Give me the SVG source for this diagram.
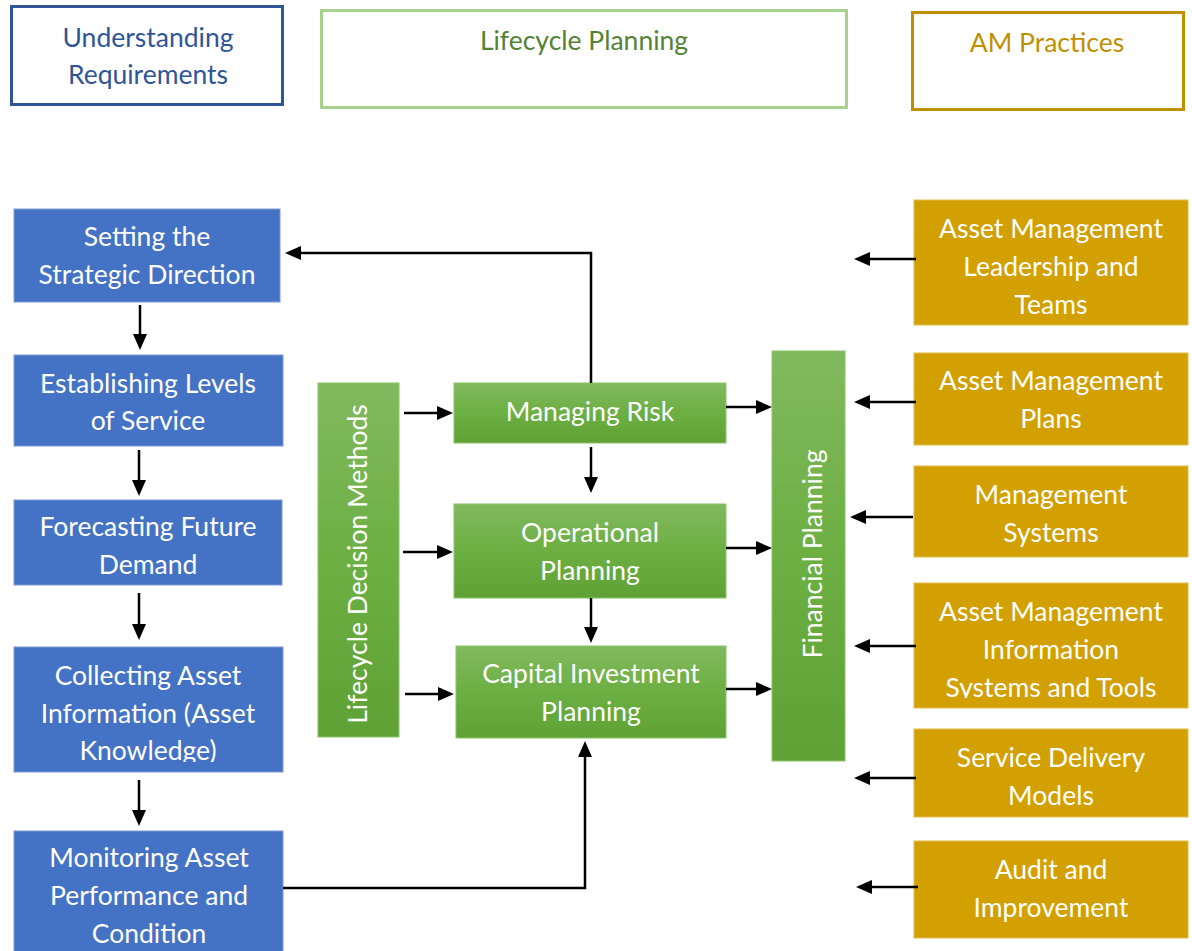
<svg xmlns="http://www.w3.org/2000/svg" width="1192" height="951" viewBox="0 0 1192 951">
<style>
.t{font-family:Lato,"Open Sans","Liberation Sans",sans-serif;font-size:26.5px;text-anchor:middle}
.w{fill:#FFFFFF}
.blue{fill:#4472C4;stroke:#7C9BD6;stroke-width:1}
.green{fill:url(#gg);stroke:#8CC46A;stroke-width:1}
.gold{fill:#D2A000;stroke:#E2BC4A;stroke-width:1}
.hdr{fill:#FFFFFF;stroke-width:3}
.c{fill:none;stroke:#000000;stroke-width:2.5;marker-end:url(#ah)}
</style>
<defs>
<linearGradient id="gg" x1="0" y1="0" x2="0" y2="1">
<stop offset="0" stop-color="#82B95F"/>
<stop offset="0.5" stop-color="#6CAF42"/>
<stop offset="1" stop-color="#5FA134"/>
</linearGradient>
<marker id="ah" markerUnits="userSpaceOnUse" markerWidth="16" markerHeight="14" viewBox="0 0 16 14" refX="12" refY="7" orient="auto">
<path d="M0,0 L16,7 L0,14 z" fill="#000000"/>
</marker>
<clipPath id="clipCAI"><rect x="14" y="647" width="269" height="115"/></clipPath>
<clipPath id="clipAMIS"><rect x="914" y="583" width="274" height="115"/></clipPath>
</defs>

<g id="hdr-understanding">
<rect class="hdr" x="11.5" y="6.5" width="271" height="98" stroke="#2F5597"/>
<text class="t" x="148" y="47" fill="#2F5597">Understanding</text>
<text class="t" x="148" y="84" fill="#2F5597">Requirements</text>
</g>
<g id="hdr-lifecycle">
<rect class="hdr" x="321.5" y="10.5" width="525" height="97" stroke="#A9D18E"/>
<text class="t" x="584" y="50" fill="#548235">Lifecycle Planning</text>
</g>
<g id="hdr-am">
<rect class="hdr" x="912.5" y="12.5" width="271" height="97" stroke="#BF9000"/>
<text class="t" x="1047" y="52" fill="#BF9000">AM Practices</text>
</g>

<g id="n-setting">
<rect class="blue" x="14" y="209" width="266" height="93"/>
<text class="t w" x="147" y="246">Setting the</text>
<text class="t w" x="147" y="284">Strategic Direction</text>
</g>
<g id="n-levels">
<rect class="blue" x="14" y="355" width="269" height="91"/>
<text class="t w" x="148" y="393">Establishing Levels</text>
<text class="t w" x="148" y="430">of Service</text>
</g>
<g id="n-forecast">
<rect class="blue" x="14" y="500" width="268" height="85"/>
<text class="t w" x="148" y="536">Forecasting Future</text>
<text class="t w" x="148" y="574">Demand</text>
</g>
<g id="n-collecting">
<rect class="blue" x="14" y="647" width="269" height="125"/>
<g clip-path="url(#clipCAI)">
<text class="t w" x="148" y="685">Collecting Asset</text>
<text class="t w" x="148" y="723">Information (Asset</text>
<text class="t w" x="148" y="760">Knowledge)</text>
</g>
</g>
<g id="n-monitoring">
<rect class="blue" x="14" y="831" width="269" height="125"/>
<text class="t w" x="149" y="867">Monitoring Asset</text>
<text class="t w" x="149" y="905">Performance and</text>
<text class="t w" x="149" y="943">Condition</text>
</g>

<g id="n-ldm">
<rect class="green" x="318" y="383" width="81" height="354"/>
<text class="t w" transform="translate(367,564) rotate(-90)">Lifecycle Decision Methods</text>
</g>
<g id="n-risk">
<rect class="green" x="454" y="383" width="272" height="60"/>
<text class="t w" x="590" y="421">Managing Risk</text>
</g>
<g id="n-operational">
<rect class="green" x="454" y="504" width="272" height="94"/>
<text class="t w" x="590" y="542">Operational</text>
<text class="t w" x="590" y="580">Planning</text>
</g>
<g id="n-capital">
<rect class="green" x="456" y="646" width="270" height="92"/>
<text class="t w" x="591" y="683">Capital Investment</text>
<text class="t w" x="591" y="721">Planning</text>
</g>
<g id="n-financial">
<rect class="green" x="772" y="351" width="73" height="410"/>
<text class="t w" transform="translate(822,554) rotate(-90)">Financial Planning</text>
</g>

<g id="n-leadership">
<rect class="gold" x="914" y="200" width="274" height="125"/>
<text class="t w" x="1051" y="238">Asset Management</text>
<text class="t w" x="1051" y="276">Leadership and</text>
<text class="t w" x="1051" y="314">Teams</text>
</g>
<g id="n-plans">
<rect class="gold" x="914" y="353" width="274" height="92"/>
<text class="t w" x="1051" y="390">Asset Management</text>
<text class="t w" x="1051" y="428">Plans</text>
</g>
<g id="n-mgmtsys">
<rect class="gold" x="914" y="466" width="274" height="91"/>
<text class="t w" x="1051" y="504">Management</text>
<text class="t w" x="1051" y="542">Systems</text>
</g>
<g id="n-info">
<rect class="gold" x="914" y="583" width="274" height="125"/>
<g clip-path="url(#clipAMIS)">
<text class="t w" x="1051" y="621">Asset Management</text>
<text class="t w" x="1051" y="659">Information</text>
<text class="t w" x="1051" y="697">Systems and Tools</text>
</g>
</g>
<g id="n-service">
<rect class="gold" x="914" y="729" width="274" height="88"/>
<text class="t w" x="1051" y="767">Service Delivery</text>
<text class="t w" x="1051" y="805">Models</text>
</g>
<g id="n-audit">
<rect class="gold" x="914" y="841" width="274" height="97"/>
<text class="t w" x="1051" y="879">Audit and</text>
<text class="t w" x="1051" y="917">Improvement</text>
</g>

<g id="connectors">
<path class="c" d="M140,305 V346"/>
<path class="c" d="M139,450 V492"/>
<path class="c" d="M139,593 V636"/>
<path class="c" d="M139,780 V822"/>
<path class="c" d="M591,383 V253 H289"/>
<path class="c" d="M283,888 H585 V745"/>
<path class="c" d="M404,413 H449"/>
<path class="c" d="M403,552 H449"/>
<path class="c" d="M405,694 H450"/>
<path class="c" d="M726,407 H768"/>
<path class="c" d="M726,548 H768"/>
<path class="c" d="M726,689 H768"/>
<path class="c" d="M591,447 V489"/>
<path class="c" d="M591,598 V639"/>
<path class="c" d="M916,259 H858"/>
<path class="c" d="M916,402 H858"/>
<path class="c" d="M913,517 H854"/>
<path class="c" d="M916,646 H858"/>
<path class="c" d="M916,778 H858"/>
<path class="c" d="M918,887 H860"/>
</g>
</svg>
